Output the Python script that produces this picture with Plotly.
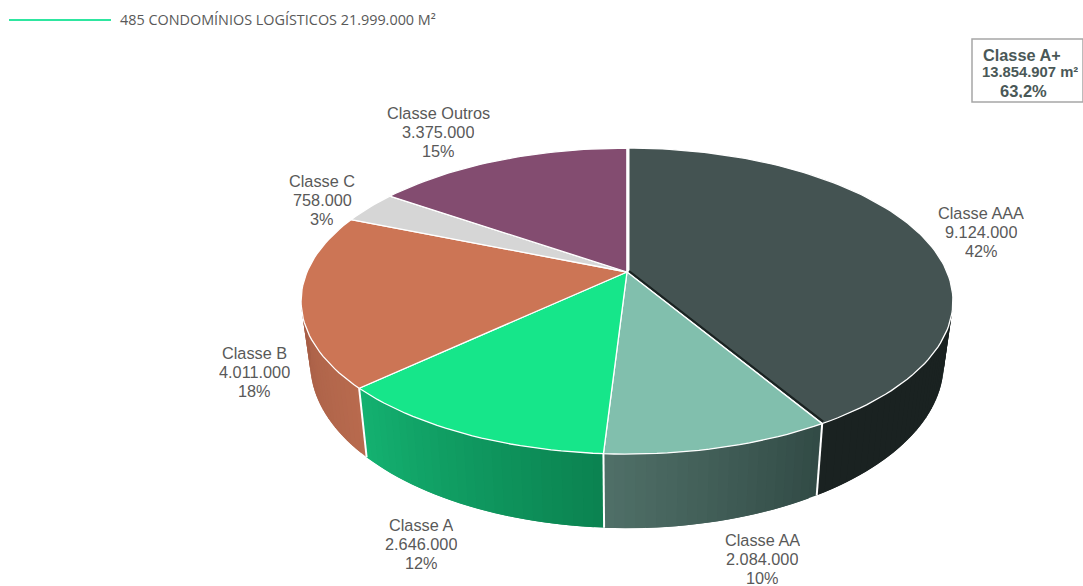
import math
import plotly.graph_objects as go

categories = ["Classe AAA", "Classe AA", "Classe A", "Classe B", "Classe C", "Classe Outros"]
values = [9124000, 2084000, 2646000, 4011000, 758000, 3375000]
value_labels = ["9.124.000", "2.084.000", "2.646.000", "4.011.000", "758.000", "3.375.000"]
pct_labels = ["42%", "10%", "12%", "18%", "3%", "15%"]
header_text = "485 CONDOMÍNIOS LOGÍSTICOS 21.999.000 M²"
box_lines = ["Classe A+", "13.854.907 m²", "63,2%"]

top_colors = ["#445352", "#81BFAD", "#16E68A", "#CC7555", "#D6D6D6", "#834C70"]
# side colour at the slice's first and last angle (clockwise)
side_from = [(26, 34, 33), (49, 74, 69), (11, 130, 80), (184, 106, 78), (200, 200, 200), (110, 60, 90)]
side_to = [(26, 34, 33), (80, 112, 104), (20, 178, 113), (166, 94, 70), (200, 200, 200), (110, 60, 90)]
label_anchor = [(981, 212), (762, 539), (421, 524), (254, 352), (322, 180), (438, 112)]

CX, CY, A, B, K = 627, 272, 320, 147.5, 0.19
DEPTH, BOTTOM_X = 60, 0.972
SIDE_START, SIDE_END = 98, 262


def rim(deg, lower=False):
    t = math.radians(deg)
    X, Y = math.sin(t), math.cos(t)
    w = 1 + K * Y
    x = A * X / w
    y = CY - B * Y / w
    if lower:
        return CX + x * BOTTOM_X, y + DEPTH / w
    return CX + x, y


total = sum(values)
edges = [0]
for v in values:
    edges.append(edges[-1] + v / total * 360)

fig = go.Figure()


def poly(xs, ys, fill, line_color=None, line_width=0.0):
    fig.add_trace(go.Scatter(x=xs, y=ys, mode="lines", fill="toself", fillcolor=fill,
                             line=dict(color=line_color or fill, width=line_width),
                             hoverinfo="skip", showlegend=False))


def seg(p, q, color, width):
    fig.add_trace(go.Scatter(x=[p[0], q[0]], y=[p[1], q[1]], mode="lines",
                             line=dict(color=color, width=width),
                             hoverinfo="skip", showlegend=False))


# side wall strips: each one overlaps the next so that no seams show
for i, v in enumerate(values):
    a0, a1 = max(edges[i], SIDE_START), min(edges[i + 1], SIDE_END)
    if a1 <= a0:
        continue
    n = max(2, int((a1 - a0) / 1.5))
    step = (a1 - a0) / n
    for j in range(n):
        s0 = a0 + step * j
        s1 = min(a1, s0 + 2 * step)
        f = (j + 0.5) / n
        c = [round(side_from[i][k] + (side_to[i][k] - side_from[i][k]) * f) for k in range(3)]
        color = f"rgb({c[0]},{c[1]},{c[2]})"
        p0, pm, p1 = rim(s0), rim((s0 + s1) / 2), rim(s1)
        q0, qm, q1 = rim(s0, True), rim((s0 + s1) / 2, True), rim(s1, True)
        poly([p0[0], pm[0], p1[0], q1[0], qm[0], q0[0], p0[0]],
             [p0[1], pm[1], p1[1], q1[1], qm[1], q0[1], p0[1]], color)

# white separators on the wall
for e in edges[1:4]:
    seg(rim(e), rim(e, True), "white", 2)

# top face wedges
for i in range(len(values)):
    n = max(4, int((edges[i + 1] - edges[i]) / 1.5))
    pts = [rim(edges[i] + (edges[i + 1] - edges[i]) * j / n) for j in range(n + 1)]
    xs = [CX] + [p[0] for p in pts] + [CX]
    ys = [CY] + [p[1] for p in pts] + [CY]
    poly(xs, ys, top_colors[i], "white", 1.3)

# gap and dark edge next to the largest slice
seg((CX + 1, CY - 124), (CX + 1, CY), "white", 3)
end = rim(edges[1])
seg((CX + 2, CY - 1), (end[0] + 1, end[1] - 2), "#1A2221", 2)

annotations = []


def text(x, y, s, size, color, family="Liberation Sans", bold=False):
    annotations.append(dict(x=x, y=y, xref="x", yref="y", text=f"<b>{s}</b>" if bold else s,
                            showarrow=False, xanchor="center", yanchor="middle", height=15,
                            font=dict(family=family, size=size, color=color)))


for i, cat in enumerate(categories):
    x, y = label_anchor[i]
    for j, s in enumerate([cat, value_labels[i], pct_labels[i]]):
        text(x, y + j * 19, s, 16.3, "#595959")

annotations.append(dict(x=118, y=19.5, xref="x", yref="y", text=header_text, showarrow=False,
                        xanchor="left", yanchor="middle",
                        font=dict(family="Open Sans", size=14.4, color="#595959")))
text(1021.5, 54, box_lines[0], 16.3, "#4A5857", bold=True)
text(1030, 71, box_lines[1], 14.8, "#4A5857", bold=True)
text(1023.5, 90, box_lines[2], 16.5, "#4A5857", bold=True)

shapes = [
    dict(type="line", x0=9, x1=111, y0=20, y1=20, xref="x", yref="y",
         line=dict(color="#2EE6A0", width=2.2)),
    dict(type="rect", x0=972, x1=1083, y0=39, y1=102, xref="x", yref="y",
         line=dict(color="#A6A6A6", width=1.5)),
]

fig.update_layout(
    width=1083, height=586, margin=dict(l=0, r=0, t=0, b=0),
    paper_bgcolor="white", plot_bgcolor="white", showlegend=False,
    xaxis=dict(range=[0, 1083], visible=False, fixedrange=True),
    yaxis=dict(range=[586, 0], visible=False, fixedrange=True),
    annotations=annotations, shapes=shapes,
)
fig.write_html("out.html", config={"displayModeBar": False},
               post_script="document.body.style.margin='0';")
